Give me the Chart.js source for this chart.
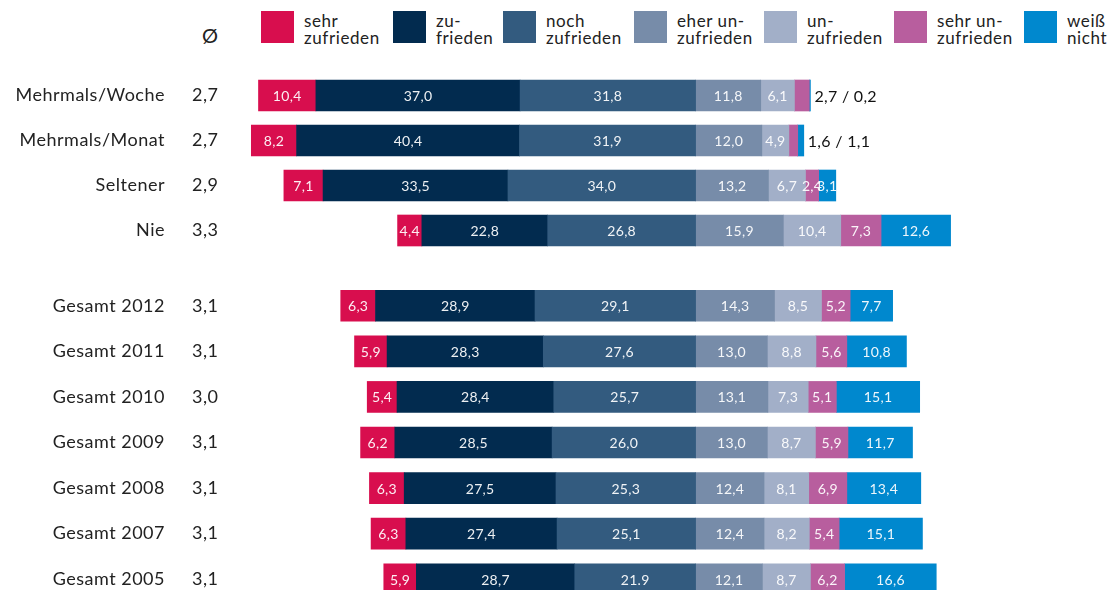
<!DOCTYPE html>
<html lang="de">
<head>
    <meta charset="UTF-8">
    <title>Zufriedenheit</title>
    <script src="https://cdn.jsdelivr.net/npm/chart.js"></script>
    <style>
        html, body {
            margin: 0;
            padding: 0;
            width: 1108px;
            height: 590px;
            overflow: hidden;
            background: #fff;
            font-family: Lato, "Noto Sans", sans-serif;
            color: #222;
        }
        .chart-box {
            position: absolute;
            left: 0;
            width: 1108px;
        }
        #boxTop { top: 73px; height: 180px; }
        #boxBottom { top: 283px; height: 319px; }
        .avg-head {
            position: absolute;
            left: 202px;
            top: 23px;
            font-size: 20px;
        }
        .legend-item {
            position: absolute;
            top: 11px;
        }
        .legend-item .sw {
            position: absolute;
            left: 0;
            top: 0;
            width: 33px;
            height: 32px;
        }
        .legend-item .tx {
            position: absolute;
            left: 43px;
            top: 1px;
            font-size: 17px;
            line-height: 17.3px;
            letter-spacing: 0.6px;
            white-space: nowrap;
        }
    </style>
</head>
<body>
    <div class="avg-head">Ø</div>
    <div id="legend"></div>
    <div class="chart-box" id="boxTop"><canvas id="chartTop"></canvas></div>
    <div class="chart-box" id="boxBottom"><canvas id="chartBottom"></canvas></div>

    <script>
        // Kategorien und Durchschnittswerte
        const categories = ['Mehrmals/Woche', 'Mehrmals/Monat', 'Seltener', 'Nie',
            'Gesamt 2012', 'Gesamt 2011', 'Gesamt 2010', 'Gesamt 2009', 'Gesamt 2008', 'Gesamt 2007', 'Gesamt 2005'];
        const averages = [2.7, 2.7, 2.9, 3.3, 3.1, 3.1, 3.0, 3.1, 3.1, 3.1, 3.1];
        const firstGroupSize = 4;

        // Anteile in Prozent
        const sehrZufrieden   = [10.4, 8.2, 7.1, 4.4, 6.3, 5.9, 5.4, 6.2, 6.3, 6.3, 5.9];
        const zufrieden       = [37.0, 40.4, 33.5, 22.8, 28.9, 28.3, 28.4, 28.5, 27.5, 27.4, 28.7];
        const nochZufrieden   = [31.8, 31.9, 34.0, 26.8, 29.1, 27.6, 25.7, 26.0, 25.3, 25.1, 21.9];
        const eherUnzufrieden = [11.8, 12.0, 13.2, 15.9, 14.3, 13.0, 13.1, 13.0, 12.4, 12.4, 12.1];
        const unzufrieden     = [6.1, 4.9, 6.7, 10.4, 8.5, 8.8, 7.3, 8.7, 8.1, 8.2, 8.7];
        const sehrUnzufrieden = [2.7, 1.6, 2.4, 7.3, 5.2, 5.6, 5.1, 5.9, 6.9, 5.4, 6.2];
        const weissNicht      = [0.2, 1.1, 3.1, 12.6, 7.7, 10.8, 15.1, 11.7, 13.4, 15.1, 16.6];

        // Legende
        const legendLabels = ['sehr<br>zufrieden', 'zu-<br>frieden', 'noch<br>zufrieden', 'eher un-<br>zufrieden',
            'un-<br>zufrieden', 'sehr un-<br>zufrieden', 'weiß<br>nicht'];
        const legendX = [261, 393, 503, 634, 764, 894, 1024];

        const colors = ['#d80e4e', '#022b4f', '#335b7f', '#778ca9', '#a2afc8', '#b85e9e', '#0088ce'];

        const fmt = v => v.toFixed(1).replace('.', ',');

        const legend = document.getElementById('legend');
        legendLabels.forEach((l, i) => {
            const d = document.createElement('div');
            d.className = 'legend-item';
            d.style.left = legendX[i] + 'px';
            d.innerHTML = `<div class="sw" style="background:${colors[i]}"></div><div class="tx">${l}</div>`;
            legend.appendChild(d);
        });

        // Beschriftungen: Kategorie, Ø und Werte in den Balken
        const labelPlugin = {
            id: 'labels',
            afterDatasetsDraw(chart) {
                const ctx = chart.ctx;
                const y = chart.scales.y;
                const cats = chart.data.labels;
                const offs = chart.options.plugins.labels.offset;
                ctx.save();
                ctx.textBaseline = 'middle';
                cats.forEach((c, i) => {
                    const py = y.getPixelForValue(i);
                    ctx.fillStyle = '#222';
                    ctx.font = '18px Lato';
                    ctx.letterSpacing = '0.5px';
                    ctx.textAlign = 'right';
                    ctx.fillText(c, 165, py);
                    ctx.textAlign = 'left';
                    ctx.fillText(fmt(averages[offs + i]), 192, py);
                });
                ctx.letterSpacing = '0.3px';
                const n = chart.data.datasets.length;
                cats.forEach((c, i) => {
                    const k = offs + i;
                    const small = weissNicht[k] < 2;
                    for (let d = 0; d < n; d++) {
                        const ds = chart.data.datasets[d];
                        if (small && (ds.key === 'sehrUn' || ds.key === 'weiss')) continue;
                        const el = chart.getDatasetMeta(d).data[i];
                        const cx = (el.x + el.base) / 2;
                        let txt = fmt(Math.abs(ds.data[i]));
                        if (ds.key === 'noch' && k === categories.length - 1) txt = txt.replace(',', '.');
                        ctx.font = '14px Lato';
                        ctx.textAlign = 'center';
                        ctx.fillStyle = 'rgba(255,255,255,0.93)';
                        ctx.fillText(txt, cx, el.y + 1);
                    }
                    if (small) {
                        const last = chart.getDatasetMeta(n - 1).data[i];
                        ctx.font = '16px Lato';
                        ctx.textAlign = 'left';
                        ctx.fillStyle = '#111';
                        ctx.fillText(fmt(sehrUnzufrieden[k]) + ' / ' + fmt(weissNicht[k]), last.x + 4, last.y + 1);
                    }
                });
                ctx.restore();
            }
        };

        function makeChart(id, from, to) {
            const sl = arr => arr.slice(from, to);
            const neg = arr => sl(arr).map(v => -v);
            const sets = [
                { key: 'noch', data: neg(nochZufrieden), backgroundColor: colors[2] },
                { key: 'zu', data: neg(zufrieden), backgroundColor: colors[1] },
                { key: 'sehr', data: neg(sehrZufrieden), backgroundColor: colors[0] },
                { key: 'eher', data: sl(eherUnzufrieden), backgroundColor: colors[3] },
                { key: 'un', data: sl(unzufrieden), backgroundColor: colors[4] },
                { key: 'sehrUn', data: sl(sehrUnzufrieden), backgroundColor: colors[5] },
                { key: 'weiss', data: sl(weissNicht), backgroundColor: colors[6] }
            ];
            sets.forEach(s => { s.barThickness = 31; s.borderWidth = 0; s.stack = 'a'; });
            return new Chart(document.getElementById(id), {
                type: 'bar',
                data: { labels: categories.slice(from, to), datasets: sets },
                options: {
                    indexAxis: 'y',
                    responsive: true,
                    maintainAspectRatio: false,
                    animation: false,
                    layout: { padding: { left: 232, right: 15, top: 0, bottom: 0 } },
                    scales: {
                        x: { stacked: true, min: -84, max: 72, display: false },
                        y: { stacked: true, display: false }
                    },
                    plugins: {
                        legend: { display: false },
                        tooltip: { enabled: false },
                        labels: { offset: from }
                    }
                },
                plugins: [labelPlugin]
            });
        }

        makeChart('chartTop', 0, firstGroupSize);
        makeChart('chartBottom', firstGroupSize, categories.length);
    </script>
</body>
</html>
